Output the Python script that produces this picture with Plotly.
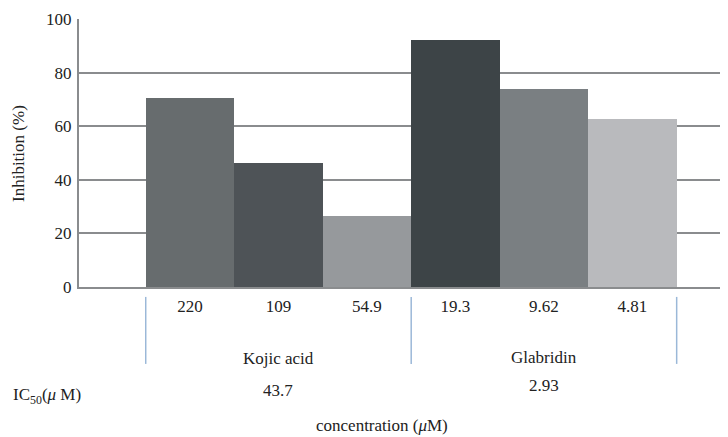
import plotly.graph_objects as go

conc_labels = ["220", "109", "54.9", "19.3", "9.62", "4.81"]
inhibition = [70.5, 46.2, 26.4, 92.3, 73.9, 62.7]
groups = ["Kojic acid", "Glabridin"]
ic50 = ["43.7", "2.93"]

bar_colors = ["#676c6e", "#4e5357", "#96999c", "#3d4447", "#7a7f82", "#b9babd"]
FONT = "Liberation Serif"
FS = 17
xs = list(range(len(inhibition)))

fig = go.Figure()
fig.add_trace(go.Bar(x=xs, y=inhibition, marker=dict(color=bar_colors, line=dict(width=0)),
                     width=1.0, showlegend=False))

# group separators
for xv in [-0.5, 2.5, 5.5]:
    fig.add_shape(type="line", xref="x", yref="paper", x0=xv, x1=xv, y0=-0.037, y1=-0.287,
                  line=dict(color="#9bb8d8", width=1.5))

ann = []
for gi, (g, ic) in enumerate(zip(groups, ic50)):
    cx = gi * 3 + 1
    ann.append(dict(x=cx, y=[-0.265, -0.262][gi], xref="x", yref="paper", text=g, showarrow=False,
                    xanchor="center", yanchor="middle",
                    font=dict(family=FONT, size=FS, color="#222")))
    ann.append(dict(x=cx, y=[-0.388, -0.369][gi], xref="x", yref="paper", text=ic, showarrow=False,
                    xanchor="center", yanchor="middle",
                    font=dict(family=FONT, size=FS, color="#222")))
ann.append(dict(x=-0.105, y=-0.405, xref="paper", yref="paper", xanchor="left", yanchor="middle",
                text="IC<sub>50</sub>(<i>μ</i> M)", showarrow=False,
                font=dict(family=FONT, size=FS, color="#222")))
ann.append(dict(x=0.467, y=-0.516, xref="paper", yref="paper", xanchor="center", yanchor="middle",
                text="concentration (<i>μ</i>M)", showarrow=False,
                font=dict(family=FONT, size=FS, color="#222")))
ann.append(dict(x=-0.094, y=0.5, xref="paper", yref="paper", textangle=-90,
                xanchor="center", yanchor="middle",
                text="Inhibition (%)", showarrow=False,
                font=dict(family=FONT, size=FS, color="#222")))

fig.update_layout(
    width=720, height=429,
    margin=dict(l=71, r=0, t=11, b=150),
    plot_bgcolor="white", paper_bgcolor="white",
    bargap=0,
    annotations=ann,
    xaxis=dict(range=[-1.254, 6.08], tickvals=xs, ticktext=conc_labels, showgrid=False,
               zeroline=False, showline=True, linecolor="#8a8c8e", linewidth=2,
               ticks="", ticklabelstandoff=3, automargin=False,
               tickfont=dict(family=FONT, size=FS, color="#222")),
    yaxis=dict(range=[0, 100], tickvals=[0, 20, 40, 60, 80, 100], showgrid=True,
               gridcolor="#8a8c8e", gridwidth=2, zeroline=False, showline=True,
               linecolor="#8a8c8e", linewidth=2, ticks="", ticklabelstandoff=2,
               automargin=False,
               tickfont=dict(family=FONT, size=FS, color="#222")),
)

fig.write_html("out.html")
